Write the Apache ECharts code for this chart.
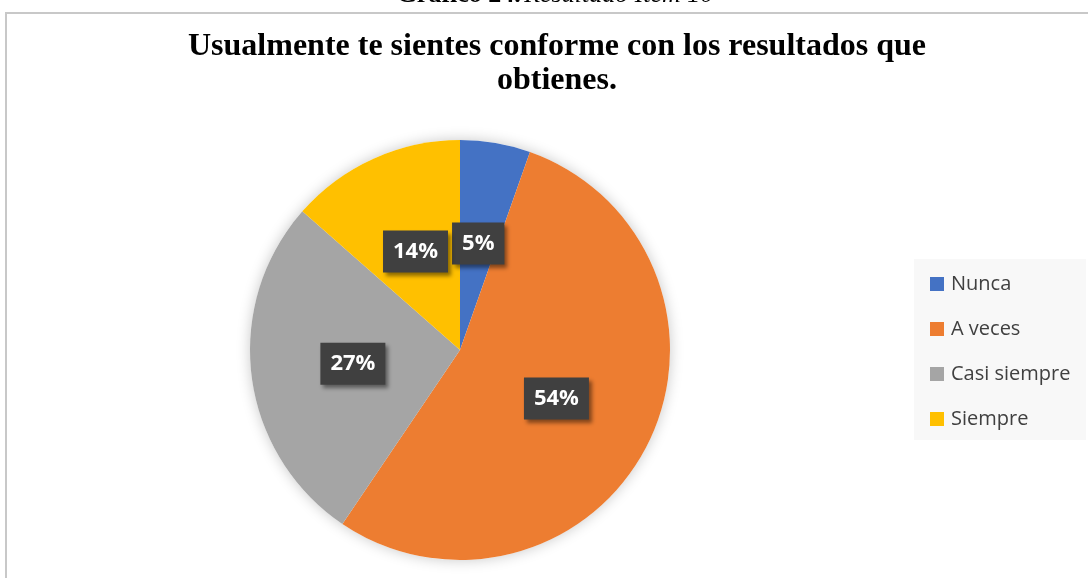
<!DOCTYPE html>
<html>
<head>
<meta charset="utf-8">
<style>
  html, body { margin: 0; padding: 0; background: #fff; }
  #chart { width: 1088px; height: 578px; }
</style>
<script src="https://cdn.jsdelivr.net/npm/echarts@6/dist/echarts.min.js"></script>
</head>
<body>
<div id="chart"></div>
<script>
// datos del gráfico (conteos de respuestas)
var categorias = ["Nunca", "A veces", "Casi siempre", "Siempre"];
var valores = [2, 20, 10, 5];
var colores = ["#4472C4", "#ED7D31", "#A5A5A5", "#FFC000"];

var serieDatos = [];
for (var i = 0; i < categorias.length; i++) {
    serieDatos.push({ name: categorias[i], value: valores[i] });
}

var myChart = echarts.init(document.getElementById('chart'));
var option = {
    animation: false,
    color: colores,
    title: {
        text: 'Usualmente te sientes conforme con los resultados que\nobtienes.',
        left: 552,
        textAlign: 'center',
        top: 25,
        textStyle: {
            fontFamily: 'Liberation Serif',
            fontWeight: 'bold',
            fontSize: 32,
            lineHeight: 34,
            color: '#000'
        }
    },
    graphic: [
        {
            type: 'rect',
            shape: { x: 6, y: 13, width: 1200, height: 700 },
            style: { fill: '#fff', stroke: '#c8c8c8', lineWidth: 2 },
            z: -10
        },
        {
            type: 'rect',
            shape: { x: 914, y: 259, width: 172, height: 181 },
            style: { fill: '#f8f8f8' },
            z: -5
        },
        {
            type: 'text',
            x: 555,
            y: -18,
            style: {
                text: '{b|Gráfico 24.} {i|Resultado Ítem 10}',
                align: 'center',
                verticalAlign: 'top',
                rich: {
                    b: { fontFamily: 'Liberation Serif', fontWeight: 'bold', fontSize: 26, fill: '#000' },
                    i: { fontFamily: 'Liberation Serif', fontStyle: 'italic', fontSize: 26, fill: '#000' }
                }
            }
        }
    ],
    legend: {
        orient: 'vertical',
        left: 925,
        top: 268,
        itemWidth: 14,
        itemHeight: 14,
        itemGap: 23,
        icon: 'rect',
        data: categorias,
        textStyle: {
            fontFamily: 'Open Sans',
            fontSize: 20,
            lineHeight: 22,
            color: '#404040',
            padding: [0, 0, 0, 2]
        }
    },
    series: [
        {
            // sombra suave del círculo
            type: 'pie',
            center: [460, 350],
            radius: 210,
            silent: true,
            z: 1,
            data: [{ value: 1, name: '' }],
            itemStyle: {
                color: '#fff',
                shadowColor: 'rgba(0,0,0,0.22)',
                shadowBlur: 14
            },
            label: { show: false },
            labelLine: { show: false },
            emphasis: { disabled: true },
            legendHoverLink: false
        },
        {
            type: 'pie',
            center: [460, 350],
            radius: 210,
            startAngle: 90,
            clockwise: true,
            z: 2,
            data: serieDatos,
            label: {
                position: 'inside',
                formatter: function (p) {
                    return Math.round(p.percent) + '%';
                },
                fontFamily: 'Open Sans',
                fontWeight: 'bold',
                fontSize: 22,
                lineHeight: 22,
                color: '#fff',
                backgroundColor: '#404040',
                padding: [10, 10],
                shadowColor: 'rgba(0,0,0,0.45)',
                shadowBlur: 4,
                shadowOffsetX: 3,
                shadowOffsetY: 3
            },
            labelLine: { show: false },
            emphasis: { disabled: true }
        }
    ]
};
myChart.setOption(option);
</script>
</body>
</html>
